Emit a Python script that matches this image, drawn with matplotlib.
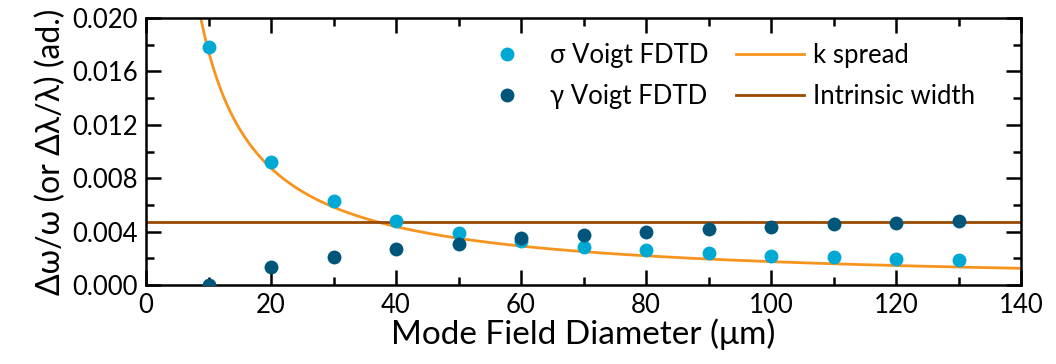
import matplotlib.pyplot as plt
import numpy as np
from matplotlib.ticker import MultipleLocator

plt.rcParams['font.family'] = ['Lato', 'DejaVu Sans']

# mode field diameter (um)
mfd = [10, 20, 30, 40, 50, 60, 70, 80, 90, 100, 110, 120, 130]
# Voigt fit widths from FDTD
sigma_voigt = [0.01785, 0.00924, 0.00629, 0.00479, 0.00393, 0.00326, 0.00288,
               0.00262, 0.00238, 0.00218, 0.00207, 0.00195, 0.00188]
gamma_voigt = [0.0, 0.00137, 0.00212, 0.00267, 0.00307, 0.00350, 0.00375,
               0.00400, 0.00420, 0.00438, 0.00456, 0.00467, 0.00479]
# k spread ~ coeff / MFD, and the intrinsic linewidth
k_spread_coeff = 0.175
intrinsic_width = 0.0047

c_sigma = '#00A9D4'
c_gamma = '#00567A'
c_kspread = '#F7941D'
c_intrinsic = '#9A4A00'

fig = plt.figure(figsize=(10.56, 3.64), dpi=100)
ax = fig.add_axes([0.1383, 0.217, 0.8286, 0.7335])

xx = np.linspace(1, 140, 600)
ax.plot(xx, k_spread_coeff / xx, color=c_kspread, lw=2, label='k spread', zorder=2)
ax.axhline(intrinsic_width, color=c_intrinsic, lw=2, label='Intrinsic width', zorder=2)
ax.plot(mfd, sigma_voigt, 'o', color=c_sigma, ms=10, mec='none',
        label='σ Voigt FDTD', zorder=3)
ax.plot(mfd, gamma_voigt, 'o', color=c_gamma, ms=10, mec='none',
        label='γ Voigt FDTD', zorder=3)

ax.set_xlim(0, 140)
ax.set_ylim(0, 0.020)
ax.xaxis.set_major_locator(MultipleLocator(20))
ax.xaxis.set_minor_locator(MultipleLocator(10))
ax.yaxis.set_major_locator(MultipleLocator(0.004))
ax.yaxis.set_minor_locator(MultipleLocator(0.002))
ax.yaxis.set_major_formatter(plt.FuncFormatter(lambda v, p: f'{v:.3f}'))

ax.tick_params(which='both', direction='in', top=True, right=True,
               width=1.8, labelsize=18.5, color='black')
ax.tick_params(which='major', length=11, pad=6)
ax.tick_params(which='minor', length=6)
for s in ax.spines.values():
    s.set_linewidth(1.8)

ax.set_xlabel('Mode Field Diameter (μm)', fontsize=24, labelpad=0)
ax.set_ylabel('Δω/ω (or Δλ/λ) (ad.)', fontsize=23, labelpad=4)

h, l = ax.get_legend_handles_labels()
order = [2, 3, 0, 1]
ax.legend([h[i] for i in order], [l[i] for i in order], ncol=2, frameon=False,
          fontsize=18.5, loc='upper left', bbox_to_anchor=(0.3737, 0.906),
          borderaxespad=0, borderpad=0, handlelength=2.65, handletextpad=0.33,
          columnspacing=1.1, labelspacing=0.63)

fig.savefig('out.png', dpi=100)
